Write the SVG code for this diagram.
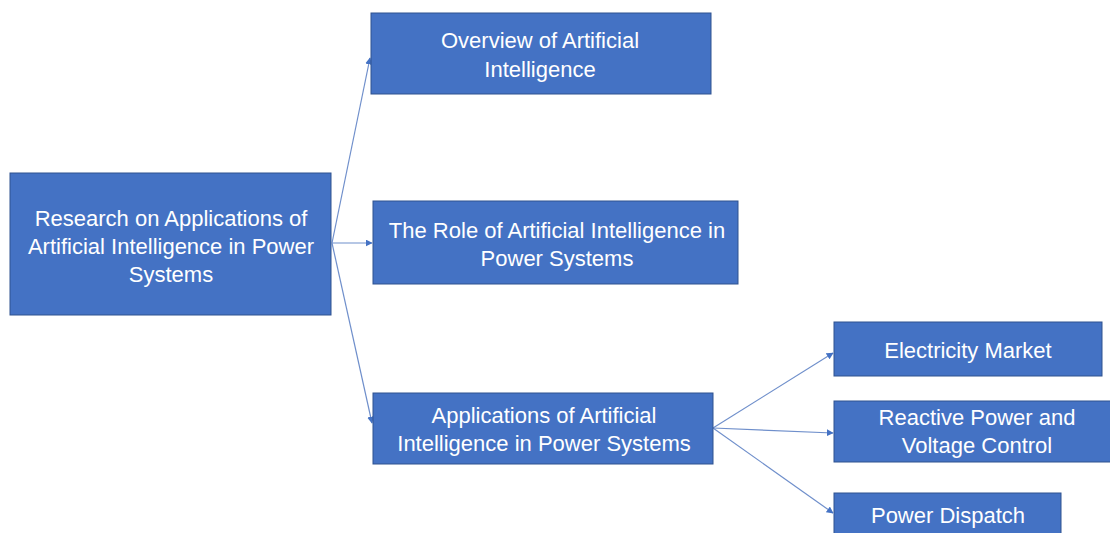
<svg xmlns="http://www.w3.org/2000/svg" width="1110" height="533" viewBox="0 0 1110 533">
  <style>
    .box { fill: #4472C4; stroke: #2F528F; stroke-width: 1; }
    .lbl { fill: #FFFFFF; font-family: "Liberation Sans", Arial, sans-serif; font-size: 22px; text-anchor: middle; }
    .conn { stroke: #6F8FCB; stroke-width: 1.2; fill: none; marker-end: url(#arrow); }
  </style>
  <defs>
    <marker id="arrow" viewBox="0 0 10 10" refX="9" refY="5" markerWidth="7" markerHeight="7" orient="auto" markerUnits="userSpaceOnUse">
      <path d="M0,0 L10,5 L0,10 z" fill="#4472C4"/>
    </marker>
  </defs>
  <rect width="1110" height="533" fill="#FFFFFF"/>

  <g id="connectors">
    <line class="conn" x1="332" y1="243" x2="370" y2="58"/>
    <line class="conn" x1="332" y1="243" x2="372" y2="243"/>
    <line class="conn" x1="332" y1="243" x2="372" y2="423"/>
    <line class="conn" x1="713" y1="428" x2="833" y2="353"/>
    <line class="conn" x1="713" y1="428" x2="833" y2="433"/>
    <line class="conn" x1="713" y1="428" x2="833" y2="513"/>
  </g>

  <g id="root">
    <rect class="box" x="10" y="173" width="321" height="142"/>
    <text class="lbl" x="171" y="226">Research on Applications of</text>
    <text class="lbl" x="171" y="254">Artificial Intelligence in Power</text>
    <text class="lbl" x="171" y="282">Systems</text>
  </g>

  <g id="overview">
    <rect class="box" x="371" y="13" width="340" height="81"/>
    <text class="lbl" x="540" y="48">Overview of Artificial</text>
    <text class="lbl" x="540" y="77">Intelligence</text>
  </g>

  <g id="role">
    <rect class="box" x="373" y="201" width="365" height="83"/>
    <text class="lbl" x="557" y="238">The Role of Artificial Intelligence in</text>
    <text class="lbl" x="557" y="266">Power Systems</text>
  </g>

  <g id="applications">
    <rect class="box" x="373" y="393" width="340" height="71"/>
    <text class="lbl" x="544" y="423">Applications of Artificial</text>
    <text class="lbl" x="544" y="451">Intelligence in Power Systems</text>
  </g>

  <g id="market">
    <rect class="box" x="834" y="322" width="268" height="54"/>
    <text class="lbl" x="968" y="358">Electricity Market</text>
  </g>

  <g id="reactive">
    <rect class="box" x="834" y="401" width="286" height="61"/>
    <text class="lbl" x="977" y="425">Reactive Power and</text>
    <text class="lbl" x="977" y="453">Voltage Control</text>
  </g>

  <g id="dispatch">
    <rect class="box" x="834" y="493" width="227" height="50"/>
    <text class="lbl" x="948" y="523">Power Dispatch</text>
  </g>
</svg>
